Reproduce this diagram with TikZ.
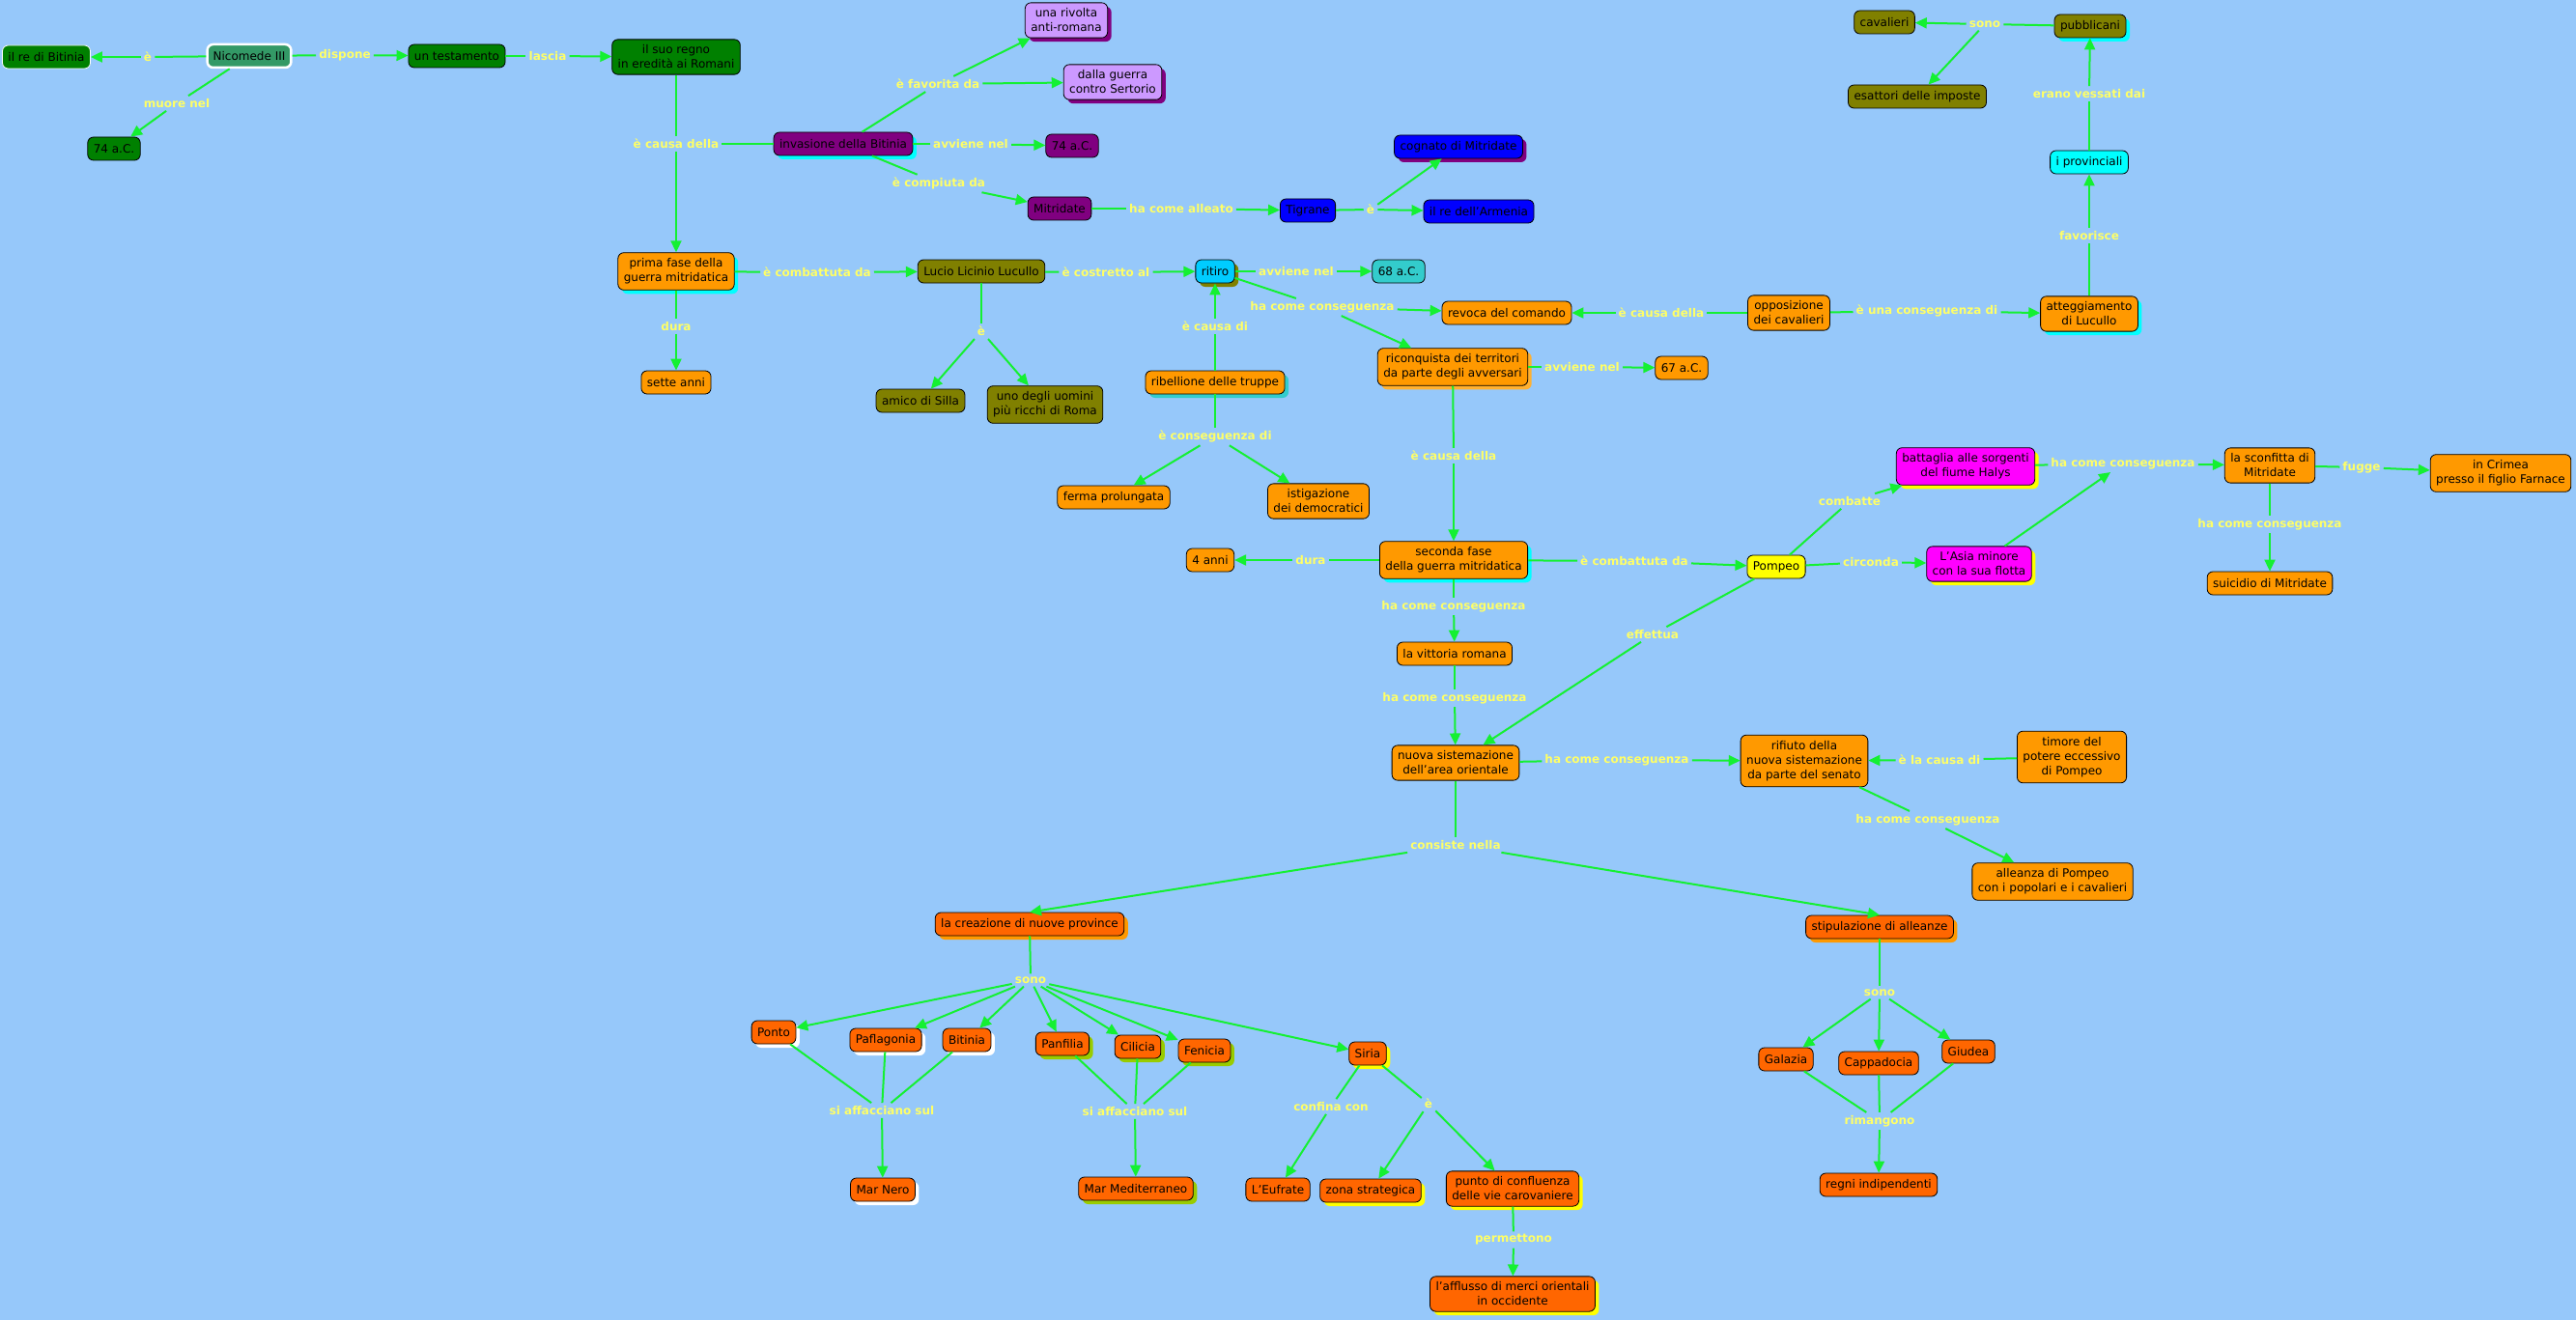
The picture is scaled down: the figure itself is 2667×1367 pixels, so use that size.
\documentclass[tikz,border=0pt]{standalone}
\usepackage{fontspec}
\setmainfont{DejaVu Sans}
\usetikzlibrary{arrows.meta,shadows}
\definecolor{bg}{HTML}{96C8FA}
\definecolor{wire}{HTML}{14F032}
\definecolor{phr}{HTML}{FFFF66}
\definecolor{leaf}{HTML}{008000}
\definecolor{sea}{HTML}{339966}
\definecolor{plum}{HTML}{800080}
\definecolor{lilac}{HTML}{CC99FF}
\definecolor{royal}{HTML}{0000FF}
\definecolor{moss}{HTML}{808000}
\definecolor{amber}{HTML}{FF9900}
\definecolor{rust}{HTML}{FF6600}
\definecolor{aqua}{HTML}{00FFFF}
\definecolor{tealish}{HTML}{33CCCC}
\definecolor{sky}{HTML}{00CCFF}
\definecolor{lemon}{HTML}{FFFF00}
\definecolor{fuchsia}{HTML}{FF00FF}
\definecolor{limey}{HTML}{99CC00}
\definecolor{peach}{HTML}{FFB030}

\begin{document}
\begin{tikzpicture}[
  x=1pt,y=-1pt,
  concept/.style={draw=black,line width=.8pt,rounded corners=6pt,align=center,
    font=\fontsize{12}{15}\selectfont,inner xsep=6pt,inner ysep=6pt,minimum height=24pt},
  phrase/.style={font=\fontsize{12}{14}\selectfont\bfseries,text=phr,inner sep=3pt},
  link/.style={draw=wire,line width=2pt},
  flow/.style={link,-{Triangle[length=12pt,width=11pt]}},
  sh/.style={drop shadow={fill=#1,opacity=1,shadow xshift=4pt,shadow yshift=-4pt}}
]
\fill[bg] (0,0) rectangle (2667,1367);

% Nicomede e il testamento
\node[concept,fill=sea,draw=white,line width=2.5pt] (nicomede) at (258,58) {Nicomede III};
\node[concept,fill=leaf,draw=white] (rebitinia) at (48,59) {il re di Bitinia};
\node[concept,fill=leaf] (morte) at (118,154) {74 a.C.};
\node[concept,fill=leaf] (testamento) at (473,58) {un testamento};
\node[concept,fill=leaf] (regno) at (700,59) {il suo regno\\in eredità ai Romani};

% Invasione della Bitinia
\node[concept,fill=plum,sh=aqua] (invasione) at (873,149) {invasione della Bitinia};
\node[concept,fill=lilac,sh=plum] (rivolta) at (1104,21) {una rivolta\\anti-romana};
\node[concept,fill=lilac,sh=plum] (sertorio) at (1152,85) {dalla guerra\\contro Sertorio};
\node[concept,fill=plum] (anno74) at (1110,151) {74 a.C.};
\node[concept,fill=plum] (mitridate) at (1097,216) {Mitridate};
\node[concept,fill=royal] (tigrane) at (1354,218) {Tigrane};
\node[concept,fill=royal,sh=plum] (cognato) at (1510,152) {cognato di Mitridate};
\node[concept,fill=royal] (armenia) at (1531,219) {il re dell'Armenia};

% Prima fase
\node[concept,fill=amber,sh=aqua] (prima) at (700,281) {prima fase della\\guerra mitridatica};
\node[concept,fill=amber] (sette) at (700,396) {sette anni};
\node[concept,fill=moss] (lucullo) at (1016,281) {Lucio Licinio Lucullo};
\node[concept,fill=moss] (amico) at (953,415) {amico di Silla};
\node[concept,fill=moss] (uomini) at (1082,419) {uno degli uomini\\più ricchi di Roma};
\node[concept,fill=sky,sh=moss] (ritiro) at (1258,281) {ritiro};
\node[concept,fill=amber,sh=tealish] (ribellione) at (1258,396) {ribellione delle truppe};
\node[concept,fill=amber] (ferma) at (1153,515) {ferma prolungata};
\node[concept,fill=amber] (istigazione) at (1365,519) {istigazione\\dei democratici};
\node[concept,fill=tealish] (anno68) at (1448,281) {68 a.C.};
\node[concept,fill=amber] (revoca) at (1560,324) {revoca del comando};
\node[concept,fill=amber,sh=peach] (riconquista) at (1504,380) {riconquista dei territori\\da parte degli avversari};
\node[concept,fill=amber] (anno67) at (1741,381) {67 a.C.};

% Cavalieri e provinciali
\node[concept,fill=amber] (opposizione) at (1852,324) {opposizione\\dei cavalieri};
\node[concept,fill=amber,sh=aqua] (atteggiamento) at (2163,325) {atteggiamento\\di Lucullo};
\node[concept,fill=aqua] (provinciali) at (2163,168) {i provinciali};
\node[concept,fill=moss,sh=aqua] (pubblicani) at (2164,27) {pubblicani};
\node[concept,fill=moss] (cavalieri) at (1951,23) {cavalieri};
\node[concept,fill=moss] (esattori) at (1985,100) {esattori delle imposte};

% Seconda fase
\node[concept,fill=amber,sh=aqua] (seconda) at (1505,580) {seconda fase\\della guerra mitridatica};
\node[concept,fill=amber] (anni4) at (1253,580) {4 anni};
\node[concept,fill=amber] (vittoria) at (1506,677) {la vittoria romana};
\node[concept,fill=amber] (nuova) at (1507,790) {nuova sistemazione\\dell'area orientale};
\node[concept,fill=lemon] (pompeo) at (1839,587) {Pompeo};
\node[concept,fill=fuchsia,sh=lemon] (battaglia) at (2035,483) {battaglia alle sorgenti\\del fiume Halys};
\node[concept,fill=fuchsia,sh=lemon] (asia) at (2049,584) {L'Asia minore\\con la sua flotta};
\node[concept,fill=amber] (sconfitta) at (2350,482) {la sconfitta di\\Mitridate};
\node[concept,fill=amber] (crimea) at (2589,490) {in Crimea\\presso il figlio Farnace};
\node[concept,fill=amber] (suicidio) at (2350,604) {suicidio di Mitridate};
\node[concept,fill=amber] (rifiuto) at (1868,788) {rifiuto della\\nuova sistemazione\\da parte del senato};
\node[concept,fill=amber] (timore) at (2145,784) {timore del\\potere eccessivo\\di Pompeo};
\node[concept,fill=amber] (alleanza) at (2125,913) {alleanza di Pompeo\\con i popolari e i cavalieri};

% Province e alleanze
\node[concept,fill=rust,sh=amber] (creazione) at (1066,957) {la creazione di nuove province};
\node[concept,fill=rust,sh=white] (ponto) at (801,1069) {Ponto};
\node[concept,fill=rust,sh=white] (paflagonia) at (917,1077) {Paflagonia};
\node[concept,fill=rust,sh=white] (bitinia) at (1001,1077) {Bitinia};
\node[concept,fill=rust,sh=limey] (panfilia) at (1100,1081) {Panfilia};
\node[concept,fill=rust,sh=limey] (cilicia) at (1178,1084) {Cilicia};
\node[concept,fill=rust,sh=limey] (fenicia) at (1247,1088) {Fenicia};
\node[concept,fill=rust,sh=lemon] (siria) at (1416,1091) {Siria};
\node[concept,fill=rust,sh=white] (marnero) at (914,1232) {Mar Nero};
\node[concept,fill=rust,sh=limey] (mediterraneo) at (1176,1231) {Mar Mediterraneo};
\node[concept,fill=rust] (eufrate) at (1323,1232) {L'Eufrate};
\node[concept,fill=rust,sh=lemon] (zona) at (1419,1233) {zona strategica};
\node[concept,fill=rust,sh=lemon] (punto) at (1566,1231) {punto di confluenza\\delle vie carovaniere};
\node[concept,fill=rust,sh=lemon] (afflusso) at (1566,1340) {l'afflusso di merci orientali\\in occidente};
\node[concept,fill=rust,sh=amber] (stipulazione) at (1946,960) {stipulazione di alleanze};
\node[concept,fill=rust] (galazia) at (1849,1097) {Galazia};
\node[concept,fill=rust] (cappadocia) at (1945,1101) {Cappadocia};
\node[concept,fill=rust] (giudea) at (2038,1089) {Giudea};
\node[concept,fill=rust] (regni) at (1945,1227) {regni indipendenti};

% Linking phrases
\node[phrase] (l1) at (153,59) {è};
\node[phrase] (l2) at (183,107) {muore nel};
\node[phrase] (l3) at (357,57) {dispone};
\node[phrase] (l4) at (567,58) {lascia};
\node[phrase] (l5) at (700,149) {è causa della};
\node[phrase] (l6) at (971,87) {è favorita da};
\node[phrase] (l7) at (1005,149) {avviene nel};
\node[phrase] (l8) at (972,190) {è compiuta da};
\node[phrase] (l9) at (1223,216) {ha come alleato};
\node[phrase] (l10) at (1419,217) {è};
\node[phrase] (l11) at (700,338) {dura};
\node[phrase] (l12) at (846,282) {è combattuta da};
\node[phrase] (l13) at (1016,343) {è};
\node[phrase] (l14) at (1145,282) {è costretto al};
\node[phrase] (l15) at (1258,338) {è causa di};
\node[phrase] (l16) at (1258,452) {è conseguenza di};
\node[phrase] (l17) at (1342,281) {avviene nel};
\node[phrase] (l18) at (1369,318) {ha come conseguenza};
\node[phrase] (l19) at (1720,324) {è causa della};
\node[phrase] (l20) at (1995,322) {è una conseguenza di};
\node[phrase] (l21) at (2163,244) {favorisce};
\node[phrase] (l22) at (2163,97) {erano vessati dai};
\node[phrase] (l23) at (2055,25) {sono};
\node[phrase] (l24) at (1638,380) {avviene nel};
\node[phrase] (l25) at (1505,472) {è causa della};
\node[phrase] (l26) at (1357,580) {dura};
\node[phrase] (l27) at (1692,581) {è combattuta da};
\node[phrase] (l28) at (1505,628) {ha come conseguenza};
\node[phrase] (l29) at (1506,723) {ha come conseguenza};
\node[phrase] (l30) at (1711,657) {effettua};
\node[phrase] (l31) at (1915,519) {combatte};
\node[phrase] (l32) at (1937,582) {circonda};
\node[phrase] (l33) at (2198,480) {ha come conseguenza};
\node[phrase] (l34) at (2445,484) {fugge};
\node[phrase] (l35) at (2350,543) {ha come conseguenza};
\node[phrase] (l36) at (1674,787) {ha come conseguenza};
\node[phrase] (l37) at (2008,787) {è la causa di};
\node[phrase] (l38) at (1996,849) {ha come conseguenza};
\node[phrase] (l39) at (1507,875) {consiste nella};
\node[phrase] (l40) at (1067,1015) {sono};
\node[phrase] (l41) at (913,1150) {si affacciano sul};
\node[phrase] (l42) at (1175,1151) {si affacciano sul};
\node[phrase] (l43) at (1378,1146) {confina con};
\node[phrase] (l44) at (1479,1143) {è};
\node[phrase] (l45) at (1567,1284) {permettono};
\node[phrase] (l46) at (1946,1028) {sono};
\node[phrase] (l47) at (1946,1161) {rimangono};

% Connectors
\foreach \a/\b in {nicomede/l1, nicomede/l2, nicomede/l3, testamento/l4, regno/l5,
    invasione/l5, invasione/l6, invasione/l7, invasione/l8, mitridate/l9, tigrane/l10,
    prima/l11, prima/l12, lucullo/l13, lucullo/l14, ribellione/l15, ribellione/l16,
    ritiro/l17, ritiro/l18, opposizione/l19, opposizione/l20, atteggiamento/l21,
    provinciali/l22, pubblicani/l23, riconquista/l24, riconquista/l25, seconda/l26,
    seconda/l27, seconda/l28, vittoria/l29, pompeo/l30, pompeo/l31, pompeo/l32,
    battaglia/l33, sconfitta/l34, sconfitta/l35, nuova/l36, timore/l37, rifiuto/l38,
    nuova/l39, creazione/l40, ponto/l41, paflagonia/l41, bitinia/l41, panfilia/l42,
    cilicia/l42, fenicia/l42, siria/l43, siria/l44, punto/l45, stipulazione/l46,
    galazia/l47, cappadocia/l47, giudea/l47}
  \draw[link] (\a) -- (\b);
\foreach \a/\b in {l1/rebitinia, l2/morte, l3/testamento, l4/regno, l5/prima,
    l6/rivolta, l6/sertorio, l7/anno74, l8/mitridate, l9/tigrane, l10/armenia,
    l10/cognato, l11/sette, l12/lucullo, l13/amico, l13/uomini, l14/ritiro, l15/ritiro,
    l16/ferma, l16/istigazione, l17/anno68, l18/revoca, l18/riconquista, l19/revoca,
    l20/atteggiamento, l21/provinciali, l22/pubblicani, l23/cavalieri, l23/esattori,
    l24/anno67, l25/seconda, l26/anni4, l27/pompeo, l28/vittoria, l29/nuova, l30/nuova,
    l31/battaglia, l32/asia, asia/l33, l33/sconfitta, l34/crimea, l35/suicidio,
    l36/rifiuto, l37/rifiuto, l38/alleanza, l39/creazione.north, l39/stipulazione.north,
    l40/ponto, l40/paflagonia, l40/bitinia, l40/panfilia, l40/cilicia, l40/fenicia,
    l40/siria, l41/marnero, l42/mediterraneo, l43/eufrate, l44/zona, l44/punto,
    l45/afflusso, l46/galazia, l46/cappadocia, l46/giudea, l47/regni}
  \draw[flow] (\a) -- (\b);
\end{tikzpicture}
\end{document}
